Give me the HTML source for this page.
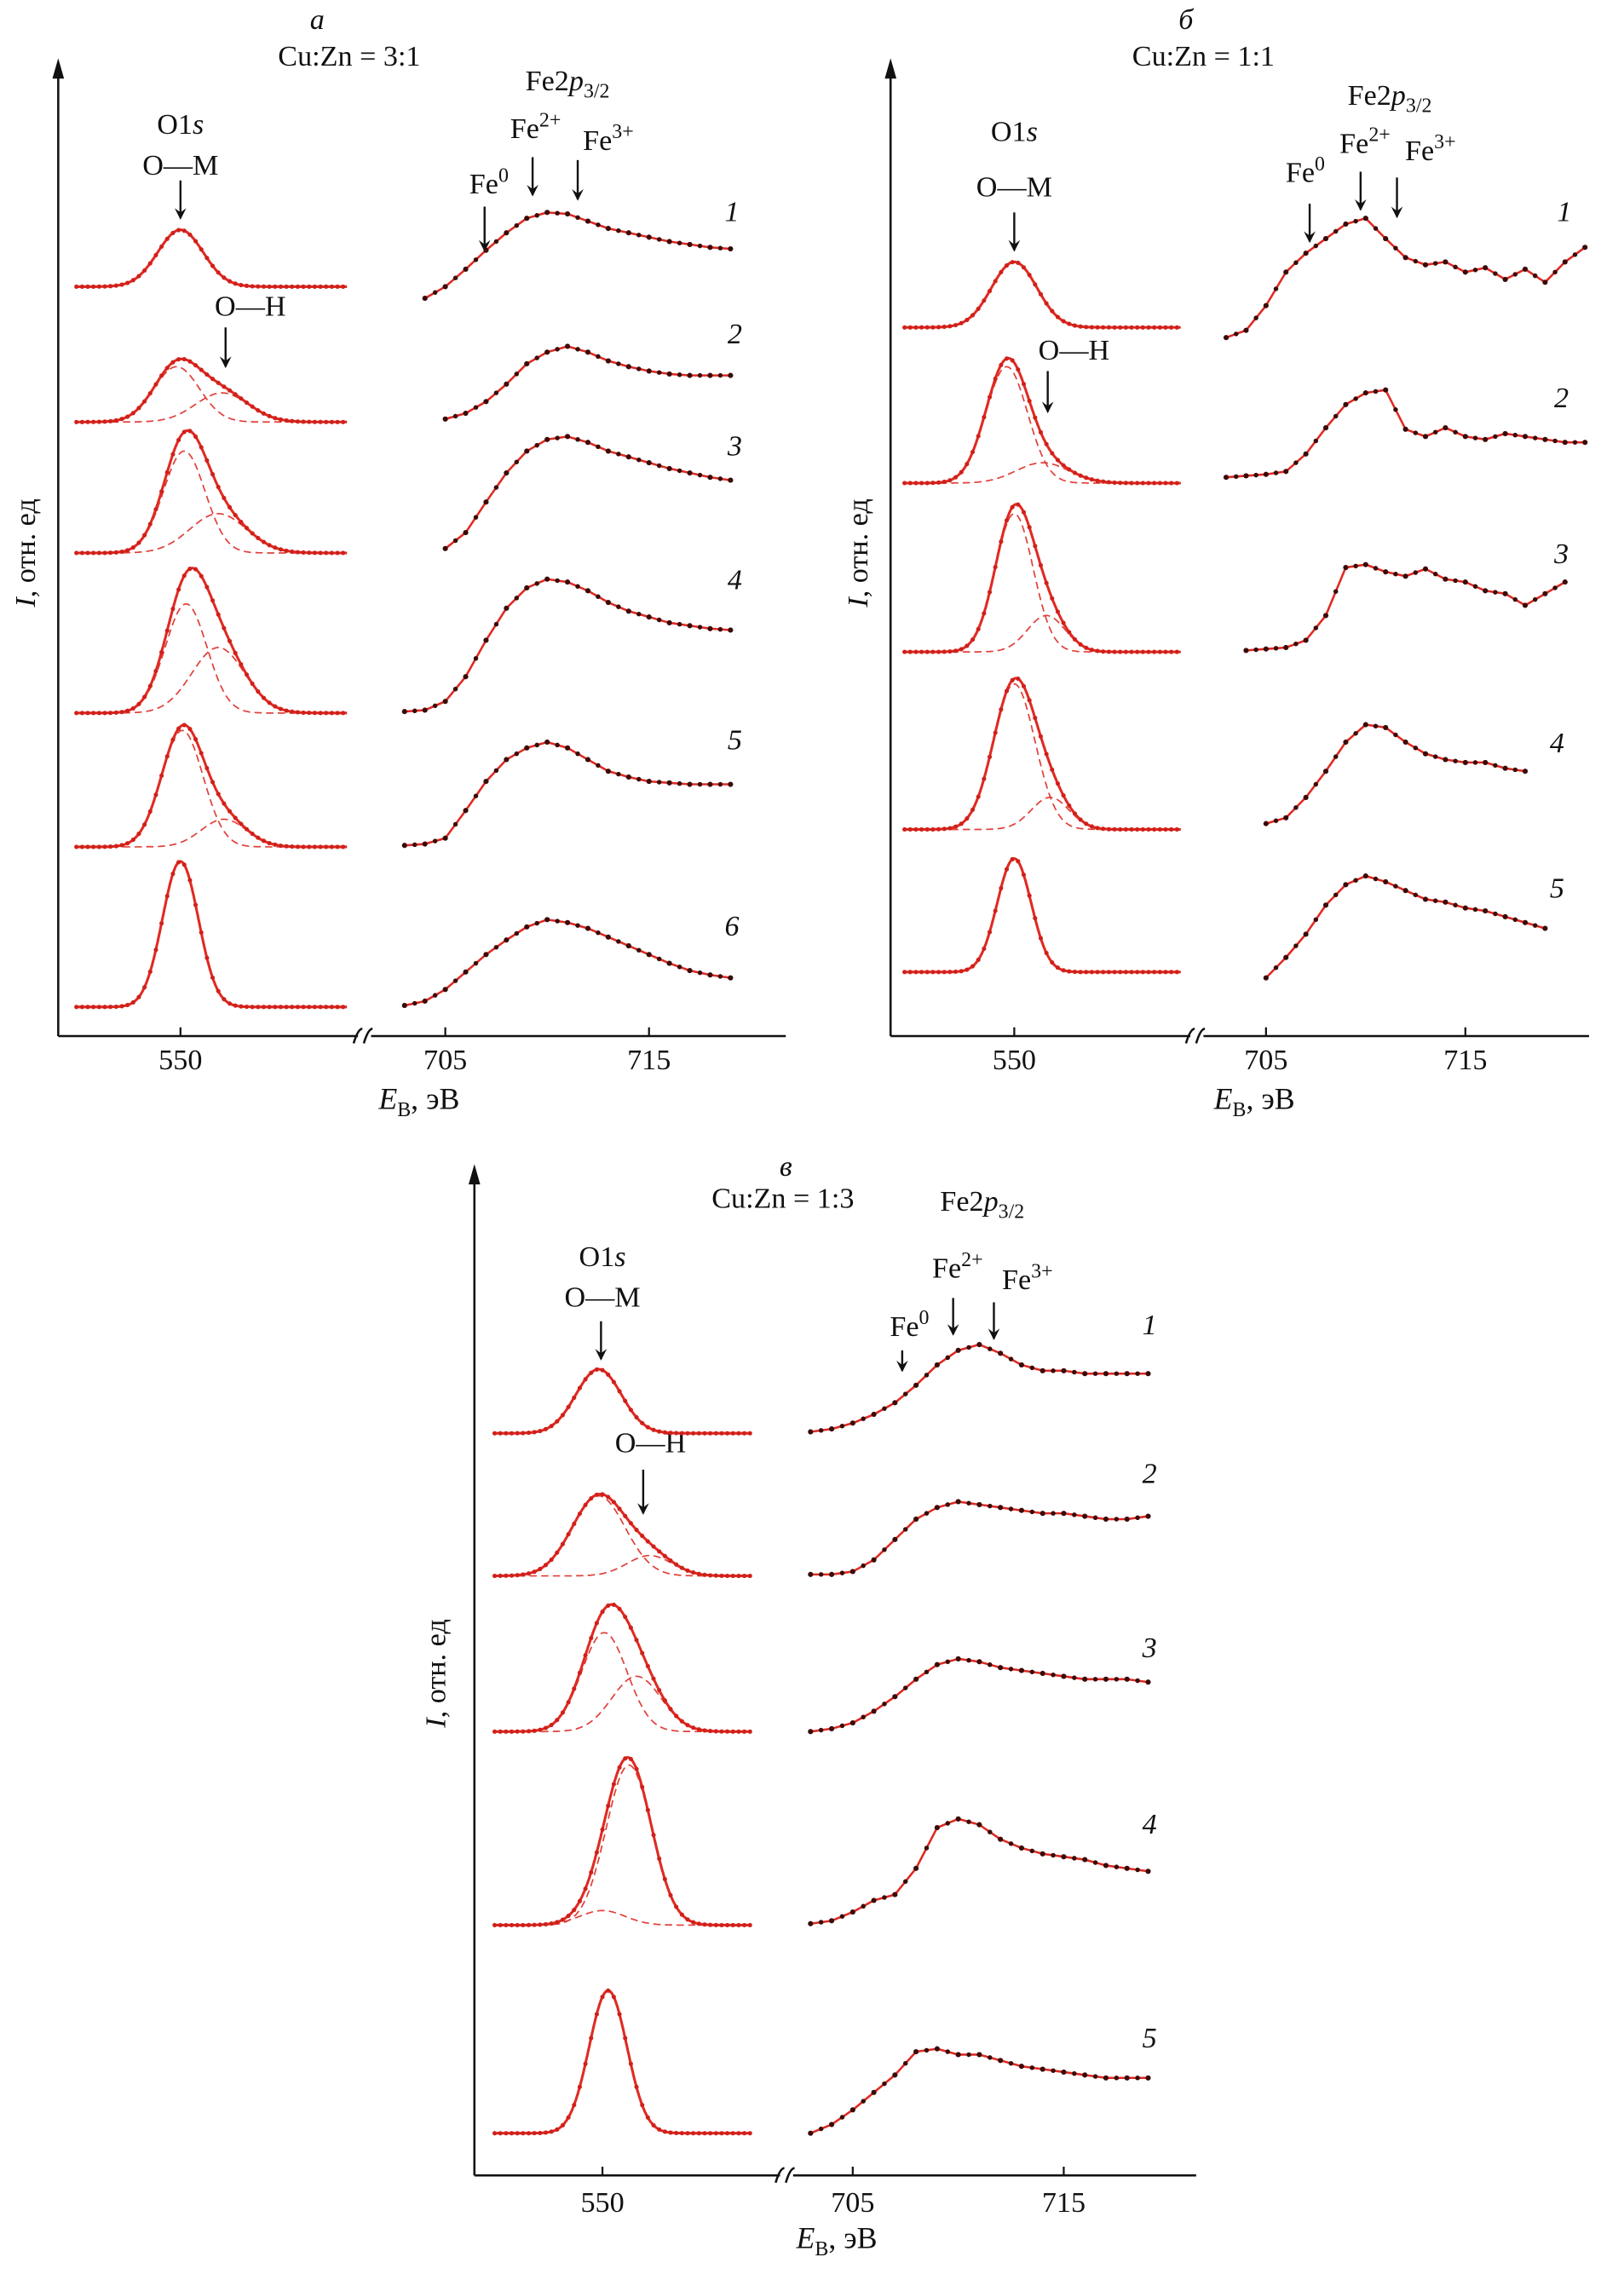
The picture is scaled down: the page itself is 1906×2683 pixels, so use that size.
<!DOCTYPE html>
<html><head><meta charset="utf-8">
<style>
html,body{margin:0;padding:0;background:#fff;}
svg{display:block;}
text{font-family:"Liberation Serif",serif;fill:#111;}
</style></head>
<body>
<svg id="chart" width="1906" height="2683" viewBox="0 0 1116 1571" xmlns="http://www.w3.org/2000/svg">
<defs><marker id="ah" markerWidth="8" markerHeight="8" refX="4" refY="7" orient="0" markerUnits="userSpaceOnUse"><path d="M0,0 L4,8 L8,0 L4,3 Z" fill="#111"/></marker></defs>
<g id="layer"></g>
</svg>
<script>
// ---- Data: Fe2p3/2 spectra (intensity in arbitrary units, 1 eV steps) ----
const feStartA = [704, 705, 705, 703, 703, 703];
const feA1 = [5,13,25,38,50,60,64,63,58,53,50,47,44,42,40,39];
const feA2 = [2,6,14,26,40,48,52,48,42,38,35,33,32,32,32];
const feA3 = [3,14,35,55,70,78,80,76,70,66,62,58,55,52,50];
const feA4 = [1,2,8,25,50,72,86,92,90,84,76,70,66,62,60,58,57];
const feA5 = [1,2,6,25,45,60,68,72,68,60,52,48,45,44,43,43,43];
const feA6 = [1,4,12,24,36,46,55,60,58,54,48,42,36,30,25,22,20];
const feStartB = [703, 703, 704, 705, 705];
const feB1 = [0,5,22,45,58,68,78,82,68,55,50,52,45,48,40,47,38,52,62];
const feB2 = [2,3,4,6,18,36,52,60,62,35,30,36,30,28,32,30,28,26,26];
const feB3 = [1,2,3,8,25,58,60,55,52,57,50,48,42,40,32,40,48];
const feB4 = [2,6,20,38,58,70,68,58,50,46,44,44,40,38];
const feB5 = [0,14,30,50,64,70,66,60,54,52,48,46,42,38,34];
const feStartC = [703, 703, 703, 703, 703];
const feC1 = [2,4,8,14,22,34,48,58,62,56,48,44,44,42,42,42,42];
const feC2 = [0,0,2,10,24,38,46,50,48,46,44,42,42,40,38,38,40];
const feC3 = [0,2,6,14,24,36,46,50,48,44,42,40,38,36,36,36,34];
const feC4 = [0,2,8,16,20,38,66,72,68,58,52,48,46,44,40,38,36];
const feC5 = [0,6,16,28,40,56,58,54,54,50,46,44,42,40,38,38,38];
// ---- Data: O1s fitted components (amplitude, centre eV, sigma eV) ----
const omAmpA = [39,38,70,75,80,100];
const omCenA = [550,549.8,550.2,550.3,550.1,550];
const omSigA = [1.2,1.2,1.1,1.1,1.1,0.95];
const ohAmpA = [0,20,27,45,19,0];
const ohCenA = [552,552.2,552,552,552.3,552];
const ohSigA = [1.4,1.4,1.5,1.4,1.2,1.2];
const omAmpB = [45,80,95,100,78];
const omCenB = [550,549.6,550,550,550];
const omSigB = [1.2,1.1,1.0,1.1,0.9];
const ohAmpB = [0,14,25,22,0];
const ohCenB = [552,551.5,551.7,551.9,552];
const ohSigB = [1.2,1.4,1.0,1.0,1.0];
const omAmpC = [44,55,68,10,98];
const omCenC = [549.8,549.8,550.1,550,550.3];
const omSigC = [1.2,1.4,1.2,1.2,1.0];
const ohAmpC = [0,14,38,110,0];
const ohCenC = [552,552.5,551.8,551.4,552];
const ohSigC = [1.2,1.2,1.3,1.2,1.2];
const tickLabels = ["550","705","715"];

const NS="http://www.w3.org/2000/svg";
const layer=document.getElementById('layer');
function el(tag,attrs,parent){const e=document.createElementNS(NS,tag);for(const k in attrs)e.setAttribute(k,attrs[k]);(parent||layer).appendChild(e);return e;}
function txt(x,y,s,size,parent,anchor,style){const t=el('text',{x:x,y:y,'font-size':size||20,'text-anchor':anchor||'middle'},parent);if(style)t.setAttribute('font-style',style);t.innerHTML=s;return t;}

const panels=[
 {id:'a',letter:'а',ratio:'Cu:Zn = 3:1',ax:40,ay0:712,ytop:40,xend:540,o550:124,oS:13,oRange:[544.5,558.8],fe705:306,feS:14,brk:250,
  bases:[197,290,380,490,582,692],feBases:[210,290,380,490,582,692],
  fe:[feA1,feA2,feA3,feA4,feA5,feA6],feStart:feStartA,om:[omAmpA,omCenA,omSigA],oh:[ohAmpA,ohCenA,ohSigA],
  labels:[[503,152],[505,236],[505,313],[505,405],[505,515],[503,643]],
  lx:218,ly:20,rx:240,ry:45,yt:[18,380],
  ann:{fe2p:[390,62],o1s:[124,92],om:[124,120,124,124,150],oh:[172,217,155,225,252],fe0:[336,133,333,142,172],fe2:[368,95,366,108,134],fe3:[418,103,397,110,137]},tickY:735,title:[288,762]},
 {id:'b',letter:'б',ratio:'Cu:Zn = 1:1',ax:612,ay0:712,ytop:40,xend:1092,o550:697,oS:13,oRange:[544.2,558.8],fe705:870,feS:13.7,brk:822,
  bases:[225,332,448,570,668],feBases:[232,330,448,568,672],
  fe:[feB1,feB2,feB3,feB4,feB5],feStart:feStartB,om:[omAmpB,omCenB,omSigB],oh:[ohAmpB,ohCenB,ohSigB],
  labels:[[1075,152],[1073,280],[1073,387],[1070,517],[1070,617]],
  lx:815,ly:20,rx:827,ry:45,yt:[590,380],
  ann:{fe2p:[955,72],o1s:[697,97],om:[697,135,697,146,172],oh:[738,247,720,255,283],fe0:[897,125,900,140,166],fe2:[938,105,935,118,144],fe3:[983,110,960,122,149]},tickY:735,title:[862,762]},
 {id:'c',letter:'в',ratio:'Cu:Zn = 1:3',ax:326,ay0:1495,ytop:800,xend:822,o550:414,oS:13,oRange:[544.3,557.8],fe705:586,feS:14.5,brk:540,
  bases:[985,1083,1190,1323,1466],feBases:[986,1082,1190,1322,1466],
  fe:[feC1,feC2,feC3,feC4,feC5],feStart:feStartC,om:[omAmpC,omCenC,omSigC],oh:[ohAmpC,ohCenC,ohSigC],
  labels:[[790,917],[790,1019],[790,1139],[790,1260],[790,1407]],
  lx:540,ly:808,rx:538,ry:830,yt:[300,1150],
  ann:{fe2p:[675,832],o1s:[414,870],om:[414,898,413,908,934],oh:[447,998,442,1010,1040],fe0:[625,918,620,928,942],fe2:[658,878,655,892,917],fe3:[706,886,683,895,920]},tickY:1520,title:[575,1545]}
];

function gauss(a,c,s,E){return a*Math.exp(-0.5*Math.pow((E-c)/s,2));}

panels.forEach(p=>{
 const g=el('g',{});
 
 
 const xO=E=>p.o550+(E-550)*p.oS;
 const xF=E=>p.fe705+(E-705)*p.feS;
 // axes
 const ya=el('line',{x1:p.ax,y1:p.ay0,x2:p.ax,y2:p.ytop+8,stroke:'#111','stroke-width':1.5},g);
 
 
 el('path',{d:`M${p.ax-4},${p.ytop+14} L${p.ax},${p.ytop} L${p.ax+4},${p.ytop+14} Z`,fill:'#111'},g);
 const xa=el('line',{x1:p.ax,y1:p.ay0,x2:p.xend,y2:p.ay0,stroke:'#111','stroke-width':1.5},g);
 
 
 el('rect',{x:p.brk-4,y:p.ay0-6,width:9,height:12,fill:'#fff'},g);
 el('path',{d:`M${p.brk-7},${p.ay0+5} q3,-10 6,-10 M${p.brk},${p.ay0+5} q3,-10 6,-10`,stroke:'#111','stroke-width':1.5,fill:'none'},g);
 // ticks
 const tx=[xO(550),xF(705),xF(715)];
 tx.forEach((x,i)=>{el('line',{x1:x,y1:p.ay0,x2:x,y2:p.ay0-6,stroke:'#111','stroke-width':1.3},g);
  const t=txt(x,p.tickY,tickLabels[i],20,g);});
 const tt=txt(p.title[0],p.title[1],'<tspan font-style="italic">E</tspan><tspan font-size="14" dy="5">B</tspan><tspan dy="-5">, эВ</tspan>',21,g);
 
 
 const yt=txt(0,0,'<tspan font-style="italic">I</tspan>, отн. ед',20,g);
 yt.setAttribute('transform',`translate(${p.yt[0]+6},${p.yt[1]}) rotate(-90)`);
 
 
 const pl=txt(p.lx,p.ly,p.letter,20,g,'middle','italic');
 
 
 const rt=txt(p.rx,p.ry,p.ratio,20,g);
 
 
 // annotations
 const A=p.ann;
 txt(A.fe2p[0],A.fe2p[1],'Fe2<tspan font-style="italic">p</tspan><tspan font-size="14" dy="5">3/2</tspan>',20,g);
 txt(A.o1s[0],A.o1s[1],'O1<tspan font-style="italic">s</tspan>',20,g);
 const arrow=(a,label)=>{txt(a[0],a[1],label,20,g);el('line',{x1:a[2],y1:a[3],x2:a[2],y2:a[4],stroke:'#111','stroke-width':1.4,'marker-end':'url(#ah)'},g);};
 arrow(A.om,'O—M');arrow(A.oh,'O—H');
 arrow(A.fe0,'Fe<tspan font-size="14" dy="-8">0</tspan>');
 arrow(A.fe2,'Fe<tspan font-size="14" dy="-8">2+</tspan>');
 arrow(A.fe3,'Fe<tspan font-size="14" dy="-8">3+</tspan>');
 // spectra
 p.bases.forEach((b,i)=>{
  const sg=el('g',{},g);
  
  
  const oa=p.om[0][i],oc=p.om[1][i],os=p.om[2][i],ha=p.oh[0][i],hc=p.oh[1][i],hs=p.oh[2][i];
  let tot='',dm='',dh='';
  for(let E=p.oRange[0];E<=p.oRange[1]+1e-6;E+=0.05){
   const x=xO(E).toFixed(1);
   tot+=(tot?'L':'M')+x+','+(b-gauss(oa,oc,os,E)-gauss(ha,hc,hs,E)).toFixed(1);
   dm+=(dm?'L':'M')+x+','+(b-gauss(oa,oc,os,E)).toFixed(1);
   dh+=(dh?'L':'M')+x+','+(b-gauss(ha,hc,hs,E)).toFixed(1);
  }
  if(ha>0){
   const m=el('path',{d:dm,stroke:'#e0403a','stroke-width':1,'stroke-dasharray':'5,3',fill:'none'},sg);
   
   const h=el('path',{d:dh,stroke:'#e0403a','stroke-width':1,'stroke-dasharray':'5,3',fill:'none'},sg);
   
  }
  const t=el('path',{d:tot,stroke:'#e02a22','stroke-width':1.8,fill:'none'},sg);
  
  for(let E=p.oRange[0];E<=p.oRange[1];E+=0.3){
   el('circle',{cx:xO(E),cy:b-gauss(oa,oc,os,E)-gauss(ha,hc,hs,E),r:1.5,fill:'#d0201a'},sg);
  }
  // Fe
  const fb=p.feBases[i],vals=p.fe[i],st=p.feStart[i];
  let d='';
  vals.forEach((v,k)=>{d+=(k?'L':'M')+xF(st+k).toFixed(1)+','+(fb-v).toFixed(1);});
  const fl=el('path',{d:d,stroke:'#e02a22','stroke-width':1.5,fill:'none','stroke-linejoin':'round'},sg);
  
  vals.forEach((v,k)=>{
   el('circle',{cx:xF(st+k),cy:fb-v,r:1.8,fill:'#3a0a08'},sg);
   if(k<vals.length-1){el('circle',{cx:xF(st+k+0.5),cy:fb-(v+vals[k+1])/2,r:1.6,fill:'#3a0a08'},sg);}
  });
  const lb=txt(p.labels[i][0],p.labels[i][1],String(i+1),20,sg,'middle','italic');
  
  
 });
});
</script>
</body></html>
